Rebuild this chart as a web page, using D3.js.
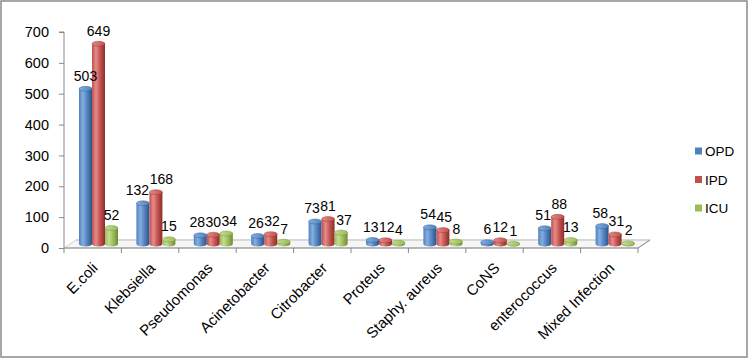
<!DOCTYPE html>
<html><head><meta charset="utf-8">
<script src="https://cdn.jsdelivr.net/npm/d3@7"></script>
<style>body{margin:0;background:#fff}svg{display:block}text{font-family:"Liberation Sans",Arial,sans-serif;fill:#000}</style>
</head><body><svg id="c" width="750" height="359"></svg>
<script>
const categories = ["E.coli","Klebsiella","Pseudomonas","Acinetobacter","Citrobacter","Proteus","Staphy. aureus","CoNS","enterococcus","Mixed Infection"];
const seriesNames = ["OPD","IPD","ICU"];
const opd = [503,132,28,26,73,13,54,6,51,58];
const ipd = [649,168,30,32,81,12,45,12,88,31];
const icu = [52,15,34,7,37,4,8,1,13,2];
const yTicks = [0,100,200,300,400,500,600,700];
const colors = ["#4F81BD","#C0504D","#9BBB59"];
const dark = ["#2c5487","#8c2e2b","#6f8a34"];
const light = ["#86aee0","#e48b88","#c4dc92"];

const svg = d3.select("#c");
const series = [opd, ipd, icu];
const x0 = 64, x1 = 638, yTop = 32, yBot = 248;
const depthX = 12, depthY = -8;

const x = d3.scaleBand().domain(categories).range([x0, x1]);
const xs = d3.scaleBand().domain(seriesNames).range([0, 39]);
const y = d3.scaleLinear().domain([0, 700]).range([yBot, yTop]);

const defs = svg.append("defs");
seriesNames.forEach((s, i) => {
  const g = defs.append("linearGradient").attr("id", "g" + i).attr("x1", "0").attr("x2", "1").attr("y1", "0").attr("y2", "0");
  g.append("stop").attr("offset", "0").attr("stop-color", colors[i]);
  g.append("stop").attr("offset", "0.3").attr("stop-color", light[i]);
  g.append("stop").attr("offset", "0.65").attr("stop-color", colors[i]);
  g.append("stop").attr("offset", "1").attr("stop-color", dark[i]);
  const gt = defs.append("linearGradient").attr("id", "t" + i).attr("x1", "0").attr("x2", "1");
  gt.append("stop").attr("offset", "0").attr("stop-color", light[i]);
  gt.append("stop").attr("offset", "1").attr("stop-color", colors[i]);
});

// border
svg.append("rect").attr("x", 1).attr("y", 1).attr("width", 746).attr("height", 356)
  .attr("fill", "#fff").attr("stroke", "#8a8a8a").attr("stroke-width", 1.5);

// floor
svg.append("path")
  .attr("d", `M${x0},${yBot} L${x0 + depthX},${yBot + depthY} L${x1 + depthX},${yBot + depthY} L${x1},${yBot} Z`)
  .attr("fill", "#f6f6f6").attr("stroke", "#d0d0d0").attr("stroke-width", 1);
svg.append("line").attr("x1", x0 + depthX).attr("x2", x1 + depthX).attr("y1", yBot + depthY).attr("y2", yBot + depthY)
  .attr("stroke", "#d8d8d8").attr("stroke-width", 2);

// y axis
const yAxis = d3.axisLeft(y).tickValues(yTicks).tickSize(5).tickPadding(10);
const ya = svg.append("g").attr("transform", `translate(${x0},0)`).call(yAxis);
ya.select(".domain").attr("stroke", "#888").attr("d", `M-5,${yTop}H0V${yBot}`);
ya.selectAll(".tick line").attr("stroke", "#888");
ya.selectAll(".tick text").style("font-size", "14.5px").attr("fill", "#000");

// x axis
const xAxis = d3.axisBottom(x).tickSize(0).tickFormat("");
const xa = svg.append("g").attr("transform", `translate(0,${yBot})`).call(xAxis);
xa.select(".domain").attr("stroke", "#888").attr("d", `M${x0},0H${x1}`);
const bounds = categories.map((c) => x(c)).concat([x1]);
xa.selectAll(".sep").data(bounds).enter().append("line").attr("class", "sep")
  .attr("x1", d => d).attr("x2", d => d).attr("y1", 0).attr("y2", 5).attr("stroke", "#888");
xa.selectAll(".lab").data(categories).enter().append("text").attr("class", "lab")
  .attr("transform", d => `translate(${x(d) + x.bandwidth() / 2 + 6},${21}) rotate(-45)`)
  .attr("text-anchor", "end").style("font-size", "15px").text(d => d);
svg.append("line").attr("x1", x1).attr("x2", x1 + depthX).attr("y1", yBot).attr("y2", yBot + depthY).attr("stroke", "#888");

// bars (cylinders)
const base = yBot - 4;
const off = y(0) - base;
const rx = xs.bandwidth() / 2, ry = 2.5;
const bars = svg.append("g");
const labels = svg.append("g");
categories.forEach((c, ci) => {
  const labs = [];
  series.forEach((vals, si) => {
    const v = vals[ci];
    const bx = x(c) + 15 + xs(seriesNames[si]);
    const top = y(v) - off;
    const cx = bx + rx;
    const g = bars.append("g");
    g.append("path")
      .attr("d", `M${bx},${top} L${bx},${base} A${rx},${ry} 0 0 0 ${bx + 2 * rx},${base} L${bx + 2 * rx},${top} Z`)
      .attr("fill", `url(#g${si})`);
    g.append("ellipse").attr("cx", cx).attr("cy", top).attr("rx", rx).attr("ry", ry)
      .attr("fill", `url(#t${si})`).attr("stroke", dark[si]).attr("stroke-width", 0.4);
    const t = labels.append("text").attr("x", cx).attr("y", top - 8).attr("text-anchor", "middle")
      .style("font-size", "14px").text(v);
    labs.push({ t, cx, by: top - 8, w: t.node().getComputedTextLength() });
  });
  // nudge overlapping neighbours apart horizontally
  for (let iter = 0; iter < 3; iter++) {
    for (let i = 1; i < labs.length; i++) {
      const a = labs[i - 1], b = labs[i];
      if (Math.abs(a.by - b.by) >= 16) continue;
      const ov = (a.w + b.w) / 2 + 0.5 - (b.cx - a.cx);
      if (ov > 0) { a.cx -= ov / 2; b.cx += ov / 2; }
    }
  }
  labs.forEach(l => l.t.attr("x", l.cx));
});

// legend
const lg = svg.append("g");
seriesNames.forEach((s, i) => {
  const ly = 151 + i * 28.5;
  lg.append("rect").attr("x", 695).attr("y", ly - 3.5).attr("width", 7).attr("height", 7).attr("fill", colors[i]);
  lg.append("text").attr("x", 705).attr("y", ly + 5).style("font-size", "13.5px").text(s);
});
</script></body></html>
